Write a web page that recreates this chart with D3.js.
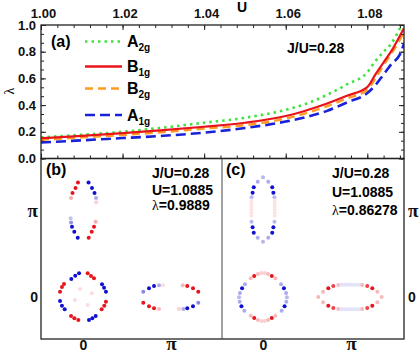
<!DOCTYPE html>
<html>
<head>
<meta charset="utf-8">
<script src="https://cdn.jsdelivr.net/npm/d3@7"></script>
<style>
body { margin: 0; background: #fff; }
text { font-family: "Liberation Sans", Arial, sans-serif; }
</style>
</head>
<body>
<div id="chart"></div>
<script>
// ---- panel (a): leading eigenvalue vs U ----
var uValues = [1.000, 1.010, 1.020, 1.030, 1.040, 1.050, 1.060, 1.065, 1.070, 1.075, 1.080, 1.082, 1.084, 1.086, 1.088, 1.089];
var lamA2g  = [0.158, 0.178, 0.200, 0.232, 0.268, 0.305, 0.365, 0.410, 0.475, 0.555, 0.645, 0.730, 0.800, 0.865, 0.975, 1.030];
var lamB1g  = [0.152, 0.170, 0.190, 0.212, 0.238, 0.268, 0.318, 0.360, 0.410, 0.470, 0.535, 0.630, 0.720, 0.810, 0.920, 0.975];
var lamB2g  = [0.140, 0.158, 0.176, 0.198, 0.224, 0.250, 0.300, 0.340, 0.390, 0.450, 0.515, 0.600, 0.700, 0.790, 0.890, 0.950];
var lamA1g  = [0.120, 0.136, 0.153, 0.170, 0.194, 0.228, 0.277, 0.310, 0.355, 0.420, 0.490, 0.550, 0.630, 0.710, 0.780, 0.860];

var uTicks = [1.00, 1.02, 1.04, 1.06, 1.08];
var lamTicks = [0, 0.2, 0.4, 0.6, 0.8, 1.0];
var legendNames = [["A", "2g"], ["B", "1g"], ["B", "2g"], ["A", "1g"]];
var kTicks = [0, 1];
var kTickLabels = ["0", "\u03c0"];

// ---- panels (b), (c): gap on the Fermi surface, [kx/pi, ky/pi, gap] ----
var fsDotsB = [
  // pocket at (0, pi)
  [-0.057, 1.316, 1], [-0.085, 1.253, 1], [-0.119, 1.195, 1], [-0.136, 1.138, 0.35],
  [0.063, 1.316, -1], [0.102, 1.253, -1], [0.131, 1.195, -1], [0.148, 1.138, -0.35], [0.150, 1.090, 0.2],
  [-0.140, 0.905, -0.25], [-0.136, 0.856, -0.45], [-0.125, 0.808, -1], [-0.099, 0.751, -1], [-0.060, 0.682, -1],
  [0.144, 0.866, 0.35], [0.125, 0.808, 1], [0.099, 0.751, 1], [0.065, 0.682, 1],
  // pocket at (0, 0)
  [-0.133, 0.207, -1], [-0.088, 0.245, -1], [-0.045, 0.272, -1], [0.053, 0.272, 1], [0.091, 0.241, 1], [0.125, 0.215, 1],
  [-0.216, 0.149, 1], [-0.239, 0.115, 1], [-0.261, 0.061, 1], [-0.261, -0.046, -1], [-0.239, -0.100, -1], [-0.208, -0.141, -1],
  [0.216, 0.146, -1], [0.239, 0.107, -1], [0.261, 0.061, -1], [0.261, -0.054, 1], [0.242, -0.100, 1], [0.212, -0.141, 1],
  [-0.136, -0.218, 1], [-0.098, -0.245, 1], [-0.053, -0.264, 1], [0.068, -0.264, -1], [0.106, -0.245, -1], [0.144, -0.218, -1],
  [-0.034, 0.092, 0.15], [0.099, 0.043, 0.15], [-0.091, -0.034, 0.15], [0.053, -0.092, 0.15],
  // pocket at (pi, 0)
  [0.685, 0.061, -0.5], [0.750, 0.100, -1], [0.807, 0.126, -1], [0.864, 0.134, -0.35], [0.909, 0.134, 0.15],
  [1.133, 0.134, 0.3], [1.185, 0.126, 1], [1.250, 0.100, 1], [1.310, 0.061, 1],
  [0.685, -0.065, 1], [0.750, -0.107, 1], [0.807, -0.130, 1], [0.864, -0.138, 0.3],
  [1.091, -0.138, 0.2], [1.140, -0.138, -0.35], [1.185, -0.130, -1], [1.250, -0.107, -1], [1.310, -0.065, -0.5]
];

var fsDotsC = [
  // pocket at (0, pi)
  [0.000, 1.376, -0.3], [-0.060, 1.325, -0.35], [0.060, 1.325, -0.35],
  [-0.105, 1.261, -1], [0.105, 1.261, -1], [-0.118, 1.199, -1], [0.118, 1.199, -1],
  [-0.130, 1.146, -0.3], [0.130, 1.146, -0.3],
  [-0.133, 1.110, 0.12], [-0.133, 1.075, 0.12], [-0.133, 1.040, 0.12], [-0.133, 1.005, 0.12], [-0.133, 0.970, 0.12], [-0.133, 0.935, 0.12],
  [0.133, 1.110, 0.12], [0.133, 1.075, 0.12], [0.133, 1.040, 0.12], [0.133, 1.005, 0.12], [0.133, 0.970, 0.12], [0.133, 0.935, 0.12],
  [-0.130, 0.866, -0.3], [0.130, 0.866, -0.3], [-0.118, 0.801, -1], [0.118, 0.801, -1],
  [-0.105, 0.739, -1], [0.105, 0.739, -1], [-0.060, 0.682, -0.35], [0.060, 0.682, -0.35], [0.000, 0.636, -0.3],
  // pocket at (0, 0)
  [-0.140, 0.215, 0.3], [-0.100, 0.242, 1], [-0.058, 0.264, 0.3], [-0.019, 0.276, 0.2],
  [0.019, 0.276, 0.2], [0.058, 0.264, 0.3], [0.100, 0.242, 1], [0.140, 0.215, 0.3],
  [-0.205, 0.146, -0.35], [-0.238, 0.100, -1], [-0.262, 0.046, -0.35], [-0.272, -0.003, -0.3],
  [-0.265, -0.054, -0.35], [-0.245, -0.107, -1], [-0.212, -0.157, -0.35],
  [0.205, 0.146, -0.35], [0.238, 0.100, -1], [0.262, 0.046, -0.35], [0.272, -0.003, -0.3],
  [0.265, -0.054, -0.35], [0.245, -0.107, -1], [0.212, -0.157, -0.35],
  [-0.140, -0.215, 0.3], [-0.100, -0.242, 1], [-0.058, -0.264, 0.3], [-0.019, -0.276, 0.2],
  [0.019, -0.276, 0.2], [0.058, -0.264, 0.3], [0.100, -0.242, 1], [0.140, -0.215, 0.3],
  // pocket at (pi, 0)
  [0.628, 0.000, 0.3], [1.349, 0.000, 0.3],
  [0.682, 0.061, 0.3], [0.742, 0.100, 1], [0.799, 0.126, 0.8], [0.856, 0.138, 0.3],
  [0.890, 0.140, -0.12], [0.925, 0.140, -0.12], [0.960, 0.140, -0.12], [0.995, 0.140, -0.12], [1.030, 0.140, -0.12], [1.065, 0.140, -0.12], [1.100, 0.140, -0.12],
  [1.128, 0.138, 0.3], [1.185, 0.126, 0.8], [1.242, 0.100, 1], [1.300, 0.061, 0.3],
  [0.682, -0.061, 0.3], [0.742, -0.100, 1], [0.799, -0.126, 0.8], [0.856, -0.138, 0.3],
  [0.890, -0.140, -0.12], [0.925, -0.140, -0.12], [0.960, -0.140, -0.12], [0.995, -0.140, -0.12], [1.030, -0.140, -0.12], [1.065, -0.140, -0.12], [1.100, -0.140, -0.12],
  [1.128, -0.138, 0.3], [1.185, -0.126, 0.8], [1.242, -0.100, 1], [1.300, -0.061, 0.3]
];

var textB = ["J/U=0.28", "U=1.0885", "0.9889"];
var textC = ["J/U=0.28", "U=1.0885", "0.86278"];

var W = 419, H = 354;
var frame = {left: 41, right: 404, top: 25, mid: 158.5, bottom: 339, split: 222};

var svg = d3.select("#chart").append("svg")
    .attr("width", W)
    .attr("height", H);

// ---------- panel (a) ----------
var x = d3.scaleLinear().domain([1.0, 1.089]).range([frame.left, frame.right]);
var y = d3.scaleLinear().domain([0, 1]).range([frame.mid, frame.top]);

svg.append("clipPath").attr("id", "clipA")
  .append("rect")
    .attr("x", frame.left).attr("y", frame.top)
    .attr("width", frame.right - frame.left).attr("height", frame.mid - frame.top);

var line = function(vals) {
  return d3.line()
    .x(function(d, i) { return x(uValues[i]); })
    .y(function(d) { return y(d); })
    .curve(d3.curveMonotoneX)(vals);
};

var plotA = svg.append("g").attr("clip-path", "url(#clipA)");

plotA.append("path").attr("d", line(lamA2g))
  .attr("fill", "none").attr("stroke", "#3fe23f").attr("stroke-width", 2.6)
  .attr("stroke-dasharray", "2.5,4");
plotA.append("path").attr("d", line(lamA1g))
  .attr("fill", "none").attr("stroke", "#1a22d8").attr("stroke-width", 2.6)
  .attr("stroke-dasharray", "10,5");
plotA.append("path").attr("d", line(lamB2g))
  .attr("fill", "none").attr("stroke", "#ff9a22").attr("stroke-width", 2.4)
  .attr("stroke-dasharray", "8,5");
plotA.append("path").attr("d", line(lamB1g))
  .attr("fill", "none").attr("stroke", "#e8141c").attr("stroke-width", 2.2);

var uMinor = d3.range(0, 23).map(function(i) { return 1 + i * 0.004; });
var lamMinor = d3.range(0, 16).map(function(i) { return i / 15; });

function styleAxis(g) {
  g.select(".domain").remove();
  g.selectAll("line").attr("stroke", "#222").attr("stroke-width", 1);
  g.selectAll("text").attr("font-size", 13).attr("font-weight", "bold").attr("fill", "#111")
    .style("font-family", "'Liberation Sans', Arial, sans-serif");
}

// top axis (labelled) + bottom ticks
svg.append("g").attr("transform", "translate(0," + frame.top + ")")
  .call(d3.axisTop(x).tickValues(uMinor).tickSize(-3).tickFormat(""))
  .call(styleAxis);
svg.append("g").attr("transform", "translate(0," + frame.top + ")")
  .call(d3.axisTop(x).tickValues(uTicks).tickSize(-5).tickPadding(7).tickFormat(d3.format(".2f")))
  .call(styleAxis)
  .selectAll("text").attr("dx", 2);
svg.append("g").attr("transform", "translate(0," + frame.mid + ")")
  .call(d3.axisBottom(x).tickValues(uMinor).tickSize(-3).tickFormat(""))
  .call(styleAxis);
svg.append("g").attr("transform", "translate(0," + frame.mid + ")")
  .call(d3.axisBottom(x).tickValues(uTicks).tickSize(-5).tickFormat(""))
  .call(styleAxis);

// left axis (labelled) + right ticks
svg.append("g").attr("transform", "translate(" + frame.left + ",0)")
  .call(d3.axisLeft(y).tickValues(lamMinor).tickSize(-3).tickFormat(""))
  .call(styleAxis);
svg.append("g").attr("transform", "translate(" + frame.left + ",0)")
  .call(d3.axisLeft(y).tickValues(lamTicks).tickSize(-5).tickPadding(5).tickFormat(d3.format(".1f")))
  .call(styleAxis);
svg.append("g").attr("transform", "translate(" + frame.right + ",0)")
  .call(d3.axisRight(y).tickValues(lamMinor).tickSize(-3).tickFormat(""))
  .call(styleAxis);
svg.append("g").attr("transform", "translate(" + frame.right + ",0)")
  .call(d3.axisRight(y).tickValues(lamTicks).tickSize(-5).tickFormat(""))
  .call(styleAxis);

svg.append("rect")
  .attr("x", frame.left).attr("y", frame.top)
  .attr("width", frame.right - frame.left).attr("height", frame.mid - frame.top)
  .attr("fill", "none").attr("stroke", "#222").attr("stroke-width", 1.3);

svg.append("text")
  .attr("x", 242).attr("y", 12)
  .attr("text-anchor", "middle")
  .attr("font-size", 14).attr("font-weight", "bold")
  .text("U");

svg.append("text")
  .attr("transform", "translate(14,91) rotate(-90)")
  .attr("text-anchor", "middle")
  .style("font-family", "'Liberation Serif', serif")
  .attr("font-size", 14)
  .text("\u03bb");

svg.append("text")
  .attr("x", 51).attr("y", 47)
  .attr("font-size", 16).attr("font-weight", "bold")
  .text("(a)");

svg.append("text")
  .attr("x", 287).attr("y", 53)
  .attr("font-size", 14).attr("font-weight", "bold")
  .text("J/U=0.28");

// legend
var legendY = [41.5, 66.5, 88.5, 115];
var legendStroke = [
  {c: "#3fe23f", w: 2.6, dash: "2.5,4"},
  {c: "#e8141c", w: 2.4, dash: null},
  {c: "#ff9a22", w: 2.4, dash: "8,5"},
  {c: "#1a22d8", w: 2.6, dash: "10,5"}
];
legendNames.forEach(function(n, i) {
  svg.append("line")
    .attr("x1", 85).attr("x2", 122)
    .attr("y1", legendY[i]).attr("y2", legendY[i])
    .attr("stroke", legendStroke[i].c)
    .attr("stroke-width", legendStroke[i].w)
    .attr("stroke-dasharray", legendStroke[i].dash);
  var t = svg.append("text")
    .attr("x", 127).attr("y", legendY[i] + 5.5)
    .attr("font-size", 16).attr("font-weight", "bold");
  t.append("tspan").text(n[0]);
  t.append("tspan").attr("dy", 4).attr("font-size", 10).text(n[1]);
});

// ---------- panels (b), (c) ----------
var gapColor = d3.scaleLinear().domain([-1, 0, 1]).range(["#1010d0", "#ffffff", "#e8141c"]);

var ky = d3.scaleLinear().domain([0, 1]).range([297, 210]);

function kTickStyle(g) {
  g.select(".domain").remove();
  g.selectAll("text")
    .attr("fill", "#111")
    .attr("font-weight", "bold")
    .style("font-family", function(d) { return d === 1 ? "'Liberation Serif', serif" : "'Liberation Sans', Arial, sans-serif"; })
    .attr("font-size", function(d) { return d === 1 ? 19 : 14; });
}

function drawFS(x0, dots, label, lines, baselines) {
  var kx = d3.scaleLinear().domain([0, 1]).range([x0 + 41, x0 + 129]);
  var g = svg.append("g");
  g.selectAll("circle")
    .data(dots)
    .enter().append("circle")
    .attr("cx", function(d) { return kx(d[0]); })
    .attr("cy", function(d) { return ky(d[1]); })
    .attr("r", 2)
    .attr("fill", function(d) { return gapColor(d[2]); });

  svg.append("g").attr("transform", "translate(0," + frame.bottom + ")")
    .call(d3.axisBottom(kx).tickValues(kTicks).tickSize(0).tickPadding(0)
      .tickFormat(function(d) { return kTickLabels[d]; }))
    .call(kTickStyle)
    .selectAll("text")
      .attr("y", 0)
      .attr("dy", function(d) { return d === 1 ? 10.5 : 11; });

  svg.append("text")
    .attr("x", x0 + 4).attr("y", 175)
    .attr("font-size", 16).attr("font-weight", "bold")
    .text(label);

  var tx = x0 + 110;
  svg.append("text").attr("x", tx).attr("y", baselines[0])
    .attr("font-size", 14).attr("font-weight", "bold").text(lines[0]);
  svg.append("text").attr("x", tx).attr("y", baselines[1])
    .attr("font-size", 14).attr("font-weight", "bold").text(lines[1]);
  var t3 = svg.append("text").attr("x", tx).attr("y", baselines[2])
    .attr("font-size", 14).attr("font-weight", "bold");
  t3.append("tspan").style("font-family", "'Liberation Serif', serif").attr("font-weight", "normal").text("\u03bb");
  t3.append("tspan").text("=" + lines[2]);
}

drawFS(42, fsDotsB, "(b)", textB, [178, 194.5, 210]);
drawFS(222, fsDotsC, "(c)", textC, [178, 196.5, 214.5]);

svg.append("g").attr("transform", "translate(" + (frame.left - 1) + ",0)")
  .call(d3.axisLeft(ky).tickValues(kTicks).tickSize(0).tickPadding(2)
    .tickFormat(function(d) { return kTickLabels[d]; }))
  .call(kTickStyle);
svg.append("g").attr("transform", "translate(" + (frame.right + 1) + ",0)")
  .call(d3.axisRight(ky).tickValues(kTicks).tickSize(0).tickPadding(3)
    .tickFormat(function(d) { return kTickLabels[d]; }))
  .call(kTickStyle);

svg.append("rect")
  .attr("x", frame.left).attr("y", frame.mid)
  .attr("width", frame.right - frame.left).attr("height", frame.bottom - frame.mid)
  .attr("fill", "none").attr("stroke", "#222").attr("stroke-width", 1.3);
svg.append("line")
  .attr("x1", frame.split).attr("x2", frame.split)
  .attr("y1", frame.mid).attr("y2", frame.bottom)
  .attr("stroke", "#444").attr("stroke-width", 1);
</script>
</body>
</html>
